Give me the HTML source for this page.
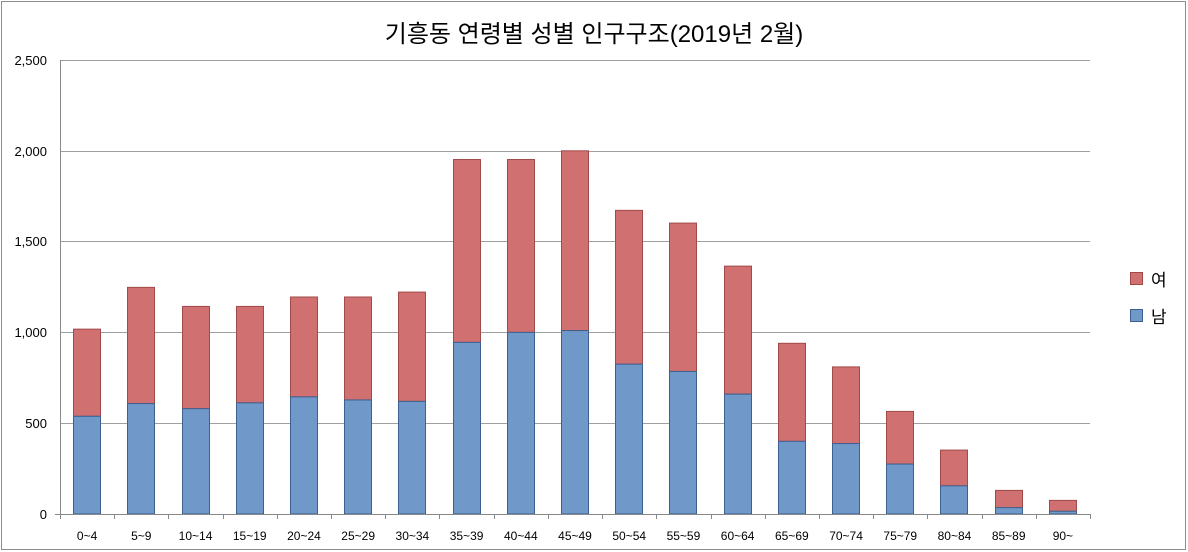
<!DOCTYPE html>
<html><head><meta charset="utf-8"><style>body{margin:0;background:#fff}svg{display:block}</style></head><body>
<svg width="1188" height="552" xmlns="http://www.w3.org/2000/svg" font-family="'Liberation Sans','Noto Sans CJK KR',sans-serif">
<rect x="1.5" y="1.5" width="1184" height="548" fill="#fff" stroke="#8c8c8c" stroke-width="1"/>
<text x="594" y="42" font-size="24" text-anchor="middle" fill="#000">기흥동 연령별 성별 인구구조(2019년 2월)</text>
<g stroke="#a0a0a0" stroke-width="1">
<line x1="60" y1="60.5" x2="1090" y2="60.5"/>
<line x1="60" y1="151.5" x2="1090" y2="151.5"/>
<line x1="60" y1="241.5" x2="1090" y2="241.5"/>
<line x1="60" y1="332.5" x2="1090" y2="332.5"/>
<line x1="60" y1="423.5" x2="1090" y2="423.5"/>
</g>
<g font-size="13" text-anchor="end" fill="#000">
<text x="47" y="65">2,500</text><text x="47" y="156">2,000</text><text x="47" y="246">1,500</text><text x="47" y="337">1,000</text><text x="47" y="428">500</text><text x="47" y="519">0</text>
</g>
<g id="bars"></g>
<line x1="60.5" y1="60" x2="60.5" y2="514" stroke="#888"/>
<line x1="55" y1="514.5" x2="1090" y2="514.5" stroke="#888"/>
<g id="ticks" stroke="#888"></g>
<g id="labels" font-size="12" text-anchor="middle" fill="#000"></g>
<rect x="1130.5" y="272.5" width="12" height="12" fill="#d07070" stroke="#a04a4a"/>
<text x="1151" y="286" font-size="17">여</text>
<rect x="1130.5" y="309.5" width="12" height="12" fill="#7098c8" stroke="#3c6090"/>
<text x="1151" y="323" font-size="17">남</text>
<script>
var d=[["0~4",538,1018],["5~9",608,1248],["10~14",580,1143],["15~19",612,1143],["20~24",645,1195],["25~29",628,1195],["30~34",620,1222],["35~39",945,1952],["40~44",1000,1952],["45~49",1010,2000],["50~54",825,1672],["55~59",785,1602],["60~64",660,1365],["65~69",400,940],["70~74",388,810],["75~79",275,565],["80~84",155,352],["85~89",35,130],["90~",15,75]];
var ns="http://www.w3.org/2000/svg",b=document.getElementById("bars"),t=document.getElementById("ticks"),l=document.getElementById("labels");
var step=1030/19,s=454/2500;
function el(p,tag,a){var e=document.createElementNS(ns,tag);for(var k in a)e.setAttribute(k,a[k]);p.appendChild(e);return e;}
for(var i=0;i<19;i++){var cx=60+step*(i+0.5),x=Math.round(cx-14)+0.5;
var ym=514-d[i][1]*s,yt=514-d[i][2]*s;
el(b,"rect",{x:x,y:yt,width:27,height:ym-yt,fill:"#d07070",stroke:"#a04a4a"});
el(b,"rect",{x:x,y:ym,width:27,height:514-ym,fill:"#7098c8",stroke:"#3c6090"});
var tx=Math.round(60+step*(i+1))+0.5;el(t,"line",{x1:tx,y1:514,x2:tx,y2:519});
var tt=el(l,"text",{x:cx,y:540});tt.textContent=d[i][0];}
el(t,"line",{x1:60.5,y1:514,x2:60.5,y2:519});
</script>
</svg>
</body></html>
